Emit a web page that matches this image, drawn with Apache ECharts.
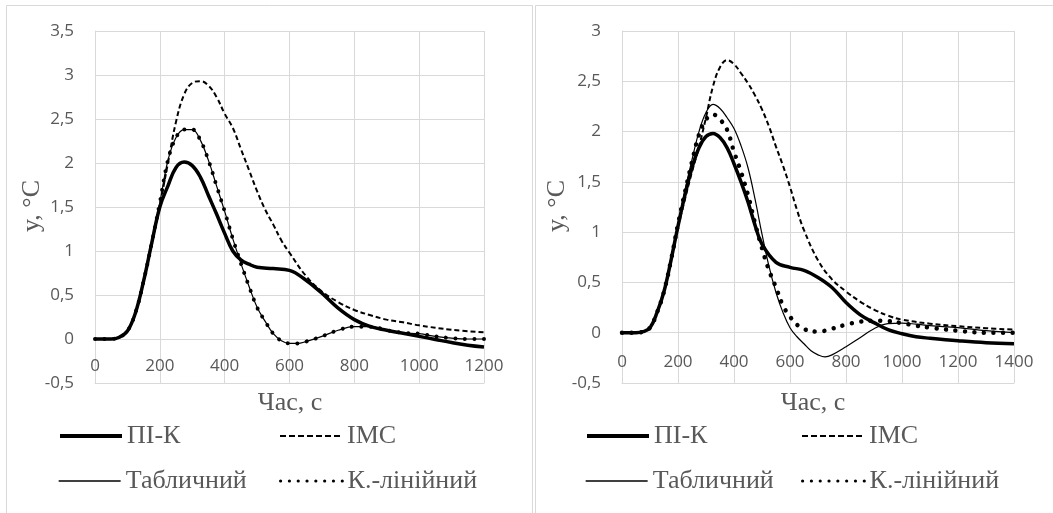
<!DOCTYPE html>
<html>
<head>
<meta charset="utf-8">
<script src="https://cdn.jsdelivr.net/npm/echarts@6/dist/echarts.min.js"></script>
<style>
html,body{margin:0;padding:0;background:#fff;}
#c{width:1053px;height:513px;}
</style>
</head>
<body>
<div id="c"></div>
<script>
// ---------- DATA ----------
const seriesNames = ['ПІ-К', 'IMC', 'Табличний', 'К.-лінійний'];
const xTitle = 'Час, с';
const yTitle = 'y, °C';

// Left chart
const tL_pik = [0,50,75,100,125,150,175,200,225,250,275,300,325,350,375,400,425,450,475,500,550,600,650,700,750,800,850,900,950,1000,1050,1100,1150,1200];
const vL_pik = [0,0,0.02,0.09,0.3,0.66,1.09,1.5,1.74,1.95,2.01,1.97,1.84,1.63,1.42,1.2,1.0,0.9,0.85,0.815,0.8,0.78,0.67,0.52,0.35,0.22,0.14,0.1,0.065,0.03,-0.005,-0.04,-0.07,-0.09];

const tL_imc = [0,50,75,100,125,150,175,200,225,250,275,300,325,350,375,400,425,450,475,500,525,550,575,600,650,700,750,800,850,900,950,1000,1100,1200];
const vL_imc = [0,0,0.02,0.09,0.3,0.66,1.09,1.52,2.0,2.47,2.78,2.91,2.93,2.88,2.75,2.56,2.4,2.16,1.92,1.68,1.47,1.3,1.12,0.98,0.72,0.54,0.42,0.33,0.27,0.22,0.19,0.155,0.105,0.076];

const tL_tab = [0,50,75,100,125,150,175,200,225,250,275,300,325,350,375,400,425,450,475,500,525,550,575,600,625,650,700,750,800,850,900,950,1000,1050,1100,1150,1200];
const vL_tab = [0,0,0.02,0.09,0.3,0.66,1.09,1.55,2.03,2.29,2.38,2.38,2.26,2.03,1.74,1.45,1.14,0.86,0.6,0.36,0.2,0.06,-0.02,-0.05,-0.05,-0.03,0.03,0.1,0.14,0.14,0.1,0.07,0.06,0.03,0.01,0.0,0.0];

const tL_kl = [0,50,75,100,125,150,175,200,225,250,275,300,325,350,375,400,425,450,475,500,525,550,575,600,625,650,700,750,800,850,900,950,1000,1050,1100,1150,1200];
const vL_kl = [0,0,0.02,0.09,0.3,0.66,1.09,1.55,2.03,2.29,2.38,2.38,2.26,2.03,1.74,1.45,1.14,0.86,0.6,0.36,0.2,0.06,-0.02,-0.05,-0.05,-0.03,0.03,0.1,0.14,0.14,0.1,0.07,0.06,0.03,0.01,0.0,0.0];

// Right chart
const tR_pik = [0,50,75,100,125,150,175,200,225,250,275,300,325,350,375,400,425,450,475,500,550,600,650,700,750,800,850,900,950,1000,1050,1100,1200,1300,1400];
const vR_pik = [0,0,0.01,0.05,0.2,0.41,0.72,1.06,1.37,1.64,1.84,1.95,1.98,1.94,1.84,1.68,1.5,1.3,1.07,0.88,0.7,0.65,0.62,0.55,0.45,0.3,0.18,0.1,0.03,-0.01,-0.04,-0.055,-0.08,-0.1,-0.11];

const tR_imc = [0,50,75,100,125,150,175,200,225,250,275,300,325,350,375,400,425,450,475,500,525,550,575,600,625,650,700,750,800,850,900,950,1000,1100,1200,1300,1400];
const vR_imc = [0,0,0.01,0.05,0.2,0.41,0.72,1.05,1.33,1.6,1.85,2.14,2.45,2.64,2.71,2.67,2.58,2.48,2.36,2.22,2.05,1.85,1.66,1.45,1.22,1.02,0.72,0.53,0.41,0.31,0.23,0.17,0.13,0.09,0.065,0.045,0.03];

const tR_tab = [0,50,75,100,125,150,175,200,225,250,275,300,325,350,375,400,425,450,475,500,525,550,575,600,625,650,675,700,725,750,800,850,900,950,1000,1050,1100,1200,1300,1400];
const vR_tab = [0,0,0.01,0.05,0.2,0.41,0.72,1.08,1.42,1.72,2.0,2.19,2.27,2.23,2.14,2.03,1.86,1.64,1.33,0.98,0.66,0.4,0.2,0.05,-0.04,-0.11,-0.18,-0.22,-0.24,-0.22,-0.14,-0.05,0.04,0.09,0.095,0.085,0.07,0.05,0.02,0.0];

const tR_kl = [0,50,75,100,125,150,175,200,225,250,275,300,325,350,375,400,425,450,475,500,525,550,575,600,625,650,700,750,800,850,900,950,1000,1050,1100,1200,1300,1400];
const vR_kl = [0,0,0.01,0.05,0.2,0.41,0.72,1.08,1.4,1.7,1.97,2.12,2.17,2.12,2.02,1.8,1.6,1.37,1.09,0.84,0.62,0.45,0.27,0.16,0.08,0.035,0.01,0.04,0.08,0.11,0.12,0.115,0.095,0.07,0.05,0.02,0.0,0.0];

const xTicksL = {min:0, max:1200, interval:200};
const xTicksR = {min:0, max:1400, interval:200};
const yTicksL = {min:-0.5, max:3.5, interval:0.5};
const yTicksR = {min:-0.5, max:3, interval:0.5};

// ---------- STYLE ----------
const GRAY = '#d9d9d9';
const TXT = '#595959';
const SERIF = '"Liberation Serif", "DejaVu Serif", serif';
const SANS = '"Open Sans", "Liberation Sans", sans-serif';

const zip = (t, v) => t.map((x, i) => [x, v[i]]);

const styles = {
  'ПІ-К': {width: 3.5, type: 'solid'},
  'IMC': {width: 2, type: [5, 3]},
  'Табличний': {width: 1.2, type: 'solid'},
  'К.-лінійний': {width: 4.5, type: [0.01, 9.5], cap: 'round'}
};

function mkSeries(name, t, v, idx, w) {
  const s = styles[name];
  return {
    name, type: 'line', xAxisIndex: idx, yAxisIndex: idx,
    data: zip(t, v), smooth: 0.4,
    symbol: 'none', showSymbol: false, silent: true,
    lineStyle: {color: '#000', width: w || s.width, type: s.type, cap: s.cap || 'butt'},
    itemStyle: {color: '#000'},
    emphasis: {disabled: true},
    animation: false
  };
}

function xAxis(idx, t, marginIn) {
  return {
    type: 'value', gridIndex: idx, min: t.min, max: t.max, interval: t.interval,
    axisLine: {show: true, onZero: false, lineStyle: {color: GRAY, width: 1}},
    axisTick: {show: false},
    splitLine: {show: true, lineStyle: {color: GRAY, width: 1}},
    axisLabel: {color: TXT, fontFamily: SANS, fontSize: 17, margin: marginIn,
      showMinLabel: true, showMaxLabel: true, formatter: v => String(v)}
  };
}
function yAxis(idx, t) {
  return {
    type: 'value', gridIndex: idx, min: t.min, max: t.max, interval: t.interval,
    axisLine: {show: true, lineStyle: {color: GRAY, width: 1}},
    axisTick: {show: false},
    splitLine: {show: true, lineStyle: {color: GRAY, width: 1}},
    axisLabel: {color: TXT, fontFamily: SANS, fontSize: 17, margin: 21,
      formatter: v => String(Math.round(v * 10) / 10).replace('.', ',')}
  };
}

const legendLine = {
  'ПІ-К': {width: 4},
  'IMC': {width: 2, type: [6, 3]},
  'Табличний': {width: 1.3},
  'К.-лінійний': {width: 3.2, type: [0.01, 8.8], cap: 'round'}
};
function legendItem(name, left, top) {
  return {
    data: [name], left, top, padding: 0, itemGap: 0,
    itemWidth: 62, itemHeight: 14, selectedMode: false,
    lineStyle: legendLine[name],
    itemStyle: {opacity: 0},
    textStyle: {fontFamily: SERIF, fontSize: 26, color: TXT, lineHeight: 30}
  };
}

const legendRow1 = 421, legendRow2 = 466;
const option = {
  animation: false,
  backgroundColor: '#fff',
  grid: [
    {left: 95, right: 1053 - 484, top: 31, bottom: 513 - 383},
    {left: 622, right: 1053 - 1014, top: 31, bottom: 513 - 383}
  ],
  xAxis: [xAxis(0, xTicksL, -25), xAxis(1, xTicksR, -29)],
  yAxis: [yAxis(0, yTicksL), yAxis(1, yTicksR)],
  legend: [
    legendItem('ПІ-К', 58, legendRow1),
    legendItem('IMC', 279, legendRow1),
    legendItem('Табличний', 58, legendRow2),
    legendItem('К.-лінійний', 279, legendRow2),
    legendItem('ПІ-К', 585, legendRow1),
    legendItem('IMC', 801, legendRow1),
    legendItem('Табличний', 585, legendRow2),
    legendItem('К.-лінійний', 801, legendRow2)
  ],
  graphic: [
    {type: 'rect', shape: {x: 6.5, y: 5.5, width: 526, height: 530}, style: {fill: 'none', stroke: GRAY, lineWidth: 1}, silent: true},
    {type: 'rect', shape: {x: 535.5, y: 5.5, width: 540, height: 530}, style: {fill: 'none', stroke: GRAY, lineWidth: 1}, silent: true},
    {type: 'text', x: 32, y: 206, rotation: Math.PI / 2,
      style: {text: yTitle, font: '26px ' + SERIF, fill: TXT, align: 'center', verticalAlign: 'middle'}},
    {type: 'text', x: 557, y: 206, rotation: Math.PI / 2,
      style: {text: yTitle, font: '26px ' + SERIF, fill: TXT, align: 'center', verticalAlign: 'middle'}},
    {type: 'text', x: 290, y: 403,
      style: {text: xTitle, font: '26px ' + SERIF, fill: TXT, align: 'center', verticalAlign: 'middle'}},
    {type: 'text', x: 813, y: 403,
      style: {text: xTitle, font: '26px ' + SERIF, fill: TXT, align: 'center', verticalAlign: 'middle'}}
  ],
  series: [
    mkSeries('IMC', tL_imc, vL_imc, 0),
    mkSeries('Табличний', tL_tab, vL_tab, 0),
    mkSeries('К.-лінійний', tL_kl, vL_kl, 0, 4),
    mkSeries('ПІ-К', tL_pik, vL_pik, 0),
    mkSeries('IMC', tR_imc, vR_imc, 1),
    mkSeries('Табличний', tR_tab, vR_tab, 1),
    mkSeries('К.-лінійний', tR_kl, vR_kl, 1),
    mkSeries('ПІ-К', tR_pik, vR_pik, 1)
  ]
};

const chart = echarts.init(document.getElementById('c'), null, {renderer: 'canvas'});
chart.setOption(option);
</script>
</body>
</html>
